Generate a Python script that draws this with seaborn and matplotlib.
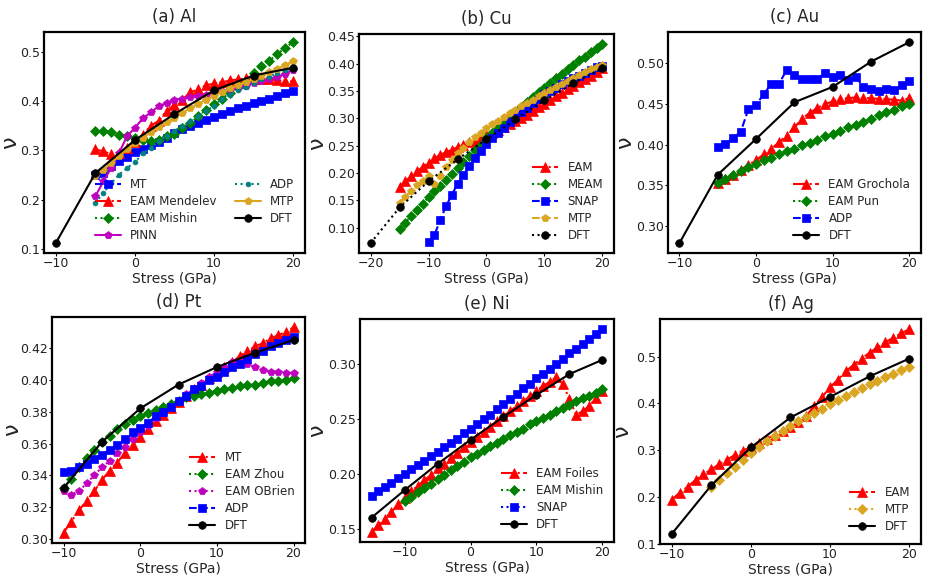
import matplotlib
matplotlib.use("Agg")
import matplotlib.pyplot as plt
from matplotlib.ticker import MultipleLocator, FormatStrFormatter
import seaborn as sns

sns.set_theme(style="white")
plt.rcParams['font.family'] = ['DejaVu Sans']

# ---------------- data ----------------
# (a) Al
al_dft_x = [-10, -5, 0, 5, 10, 15, 20]
al_dft = [0.112, 0.254, 0.321, 0.374, 0.422, 0.452, 0.468]
al_x = list(range(-5, 21))
al_mt = [0.250, 0.255, 0.268, 0.278, 0.287, 0.296, 0.303, 0.310, 0.318, 0.325, 0.335, 0.343, 0.350,
         0.356, 0.362, 0.368, 0.374, 0.380, 0.386, 0.391, 0.396, 0.401, 0.405, 0.410, 0.416, 0.421]
al_mendelev = [0.302, 0.298, 0.292, 0.295, 0.305, 0.318, 0.332, 0.350, 0.360, 0.380, 0.393, 0.403, 0.418,
               0.424, 0.432, 0.436, 0.438, 0.442, 0.444, 0.446, 0.444, 0.445, 0.444, 0.442, 0.441, 0.440]
al_mishin = [0.339, 0.340, 0.337, 0.332, 0.329, 0.325, 0.322, 0.320, 0.322, 0.329, 0.334, 0.346, 0.356,
             0.369, 0.383, 0.394, 0.405, 0.417, 0.429, 0.438, 0.457, 0.471, 0.482, 0.496, 0.508, 0.520]
al_pinn = [0.207, 0.237, 0.264, 0.295, 0.329, 0.346, 0.365, 0.377, 0.390, 0.396, 0.403, 0.405, 0.408,
           0.410, 0.413, 0.417, 0.420, 0.424, 0.427, 0.431, 0.437, 0.440, 0.445, 0.449, 0.456, 0.463]
al_adp = [0.193, 0.214, 0.233, 0.251, 0.264, 0.276, 0.294, 0.305, 0.319, 0.330, 0.340, 0.349, 0.359,
          0.369, 0.380, 0.391, 0.405, 0.413, 0.422, 0.429, 0.437, 0.444, 0.450, 0.457, 0.463, 0.466]
al_mtp = [0.248, 0.261, 0.275, 0.288, 0.302, 0.314, 0.325, 0.337, 0.347, 0.357, 0.366, 0.376, 0.386,
          0.395, 0.403, 0.411, 0.419, 0.426, 0.432, 0.439, 0.445, 0.452, 0.459, 0.465, 0.474, 0.481]

# (b) Cu
cu_dft_x = [-20, -15, -10, -5, 0, 5, 10, 15, 20]
cu_dft = [0.072, 0.137, 0.185, 0.225, 0.262, 0.298, 0.333, 0.364, 0.392]
cu_x = list(range(-15, 21))
cu_eam = [0.174, 0.185, 0.194, 0.203, 0.211, 0.219, 0.227, 0.233, 0.238, 0.243, 0.247, 0.251, 0.256,
          0.259, 0.264, 0.269, 0.273, 0.278, 0.284, 0.290, 0.295, 0.301, 0.307, 0.314, 0.320, 0.326,
          0.333, 0.340, 0.346, 0.353, 0.360, 0.366, 0.372, 0.378, 0.385, 0.392]
cu_meam = [0.098, 0.109, 0.122, 0.133, 0.144, 0.156, 0.167, 0.177, 0.188, 0.199, 0.210, 0.220, 0.231,
           0.242, 0.252, 0.264, 0.274, 0.283, 0.293, 0.302, 0.312, 0.321, 0.330, 0.339, 0.348, 0.356,
           0.365, 0.373, 0.381, 0.390, 0.398, 0.406, 0.413, 0.421, 0.429, 0.436]
cu_mtp = [0.146, 0.157, 0.168, 0.178, 0.186, 0.194, 0.180, 0.194, 0.211, 0.224, 0.236, 0.246, 0.256,
          0.265, 0.274, 0.282, 0.290, 0.296, 0.303, 0.309, 0.315, 0.322, 0.328, 0.334, 0.340, 0.346,
          0.352, 0.357, 0.363, 0.369, 0.374, 0.380, 0.385, 0.390, 0.394, 0.398]
cu_snap_x = list(range(-10, 21))
cu_snap = [0.073, 0.086, 0.114, 0.139, 0.160, 0.180, 0.196, 0.212, 0.228, 0.240, 0.253, 0.264, 0.273,
           0.283, 0.293, 0.302, 0.311, 0.319, 0.328, 0.336, 0.344, 0.350, 0.356, 0.362, 0.368, 0.373,
           0.378, 0.383, 0.388, 0.393, 0.396]

# (c) Au
au_dft_x = [-10, -5, 0, 5, 10, 15, 20]
au_dft = [0.279, 0.363, 0.407, 0.452, 0.471, 0.502, 0.526]
au_x = list(range(-5, 21))
au_grochola = [0.353, 0.358, 0.363, 0.369, 0.375, 0.381, 0.388, 0.395, 0.403, 0.411, 0.421, 0.432, 0.439,
               0.445, 0.450, 0.453, 0.456, 0.457, 0.458, 0.457, 0.457, 0.456, 0.456, 0.455, 0.454, 0.457]
au_pun = [0.353, 0.358, 0.363, 0.367, 0.372, 0.376, 0.381, 0.384, 0.388, 0.392, 0.395, 0.399, 0.402,
          0.406, 0.410, 0.413, 0.417, 0.421, 0.424, 0.428, 0.432, 0.436, 0.440, 0.443, 0.447, 0.450]
au_adp = [0.397, 0.401, 0.408, 0.416, 0.444, 0.449, 0.462, 0.475, 0.475, 0.492, 0.486, 0.480, 0.480,
          0.481, 0.488, 0.483, 0.486, 0.479, 0.483, 0.471, 0.468, 0.466, 0.468, 0.467, 0.473, 0.478]

# (d) Pt
pt_dft_x = [-10, -5, 0, 5, 10, 15, 20]
pt_dft = [0.332, 0.361, 0.382, 0.397, 0.408, 0.417, 0.425]
pt_x = list(range(-10, 21))
pt_mt = [0.304, 0.311, 0.318, 0.324, 0.330, 0.337, 0.343, 0.348, 0.354, 0.359, 0.364, 0.369, 0.374,
         0.378, 0.382, 0.386, 0.390, 0.394, 0.397, 0.401, 0.405, 0.408, 0.411, 0.415, 0.418, 0.421,
         0.423, 0.426, 0.428, 0.430, 0.433]
pt_zhou = [0.332, 0.338, 0.345, 0.351, 0.356, 0.361, 0.365, 0.369, 0.372, 0.375, 0.377, 0.379, 0.381,
           0.383, 0.385, 0.387, 0.389, 0.390, 0.391, 0.392, 0.393, 0.394, 0.395, 0.396, 0.397, 0.397,
           0.398, 0.399, 0.399, 0.400, 0.401]
pt_obrien = [0.330, 0.328, 0.330, 0.335, 0.340, 0.345, 0.349, 0.354, 0.358, 0.363, 0.367, 0.371, 0.376,
             0.379, 0.383, 0.387, 0.391, 0.394, 0.398, 0.402, 0.405, 0.408, 0.411, 0.411, 0.410, 0.408,
             0.406, 0.405, 0.405, 0.404, 0.404]
pt_adp = [0.342, 0.343, 0.345, 0.347, 0.350, 0.353, 0.356, 0.359, 0.363, 0.367, 0.370, 0.373, 0.377,
          0.380, 0.383, 0.387, 0.390, 0.394, 0.396, 0.400, 0.402, 0.405, 0.408, 0.410, 0.413, 0.416,
          0.418, 0.421, 0.423, 0.425, 0.427]

# (e) Ni
ni_dft_x = [-15, -10, -5, 0, 5, 10, 15, 20]
ni_dft = [0.160, 0.185, 0.209, 0.231, 0.252, 0.272, 0.291, 0.304]
ni_x = list(range(-15, 21))
ni_foiles = [0.147, 0.153, 0.159, 0.165, 0.172, 0.178, 0.184, 0.189, 0.194, 0.199, 0.205, 0.209, 0.214,
             0.219, 0.224, 0.229, 0.234, 0.238, 0.243, 0.248, 0.253, 0.257, 0.262, 0.266, 0.271, 0.276,
             0.280, 0.284, 0.288, 0.282, 0.268, 0.254, 0.257, 0.262, 0.269, 0.276]
ni_mishin_x = list(range(-10, 21))
ni_mishin = [0.175, 0.179, 0.183, 0.187, 0.191, 0.195, 0.199, 0.203, 0.207, 0.211, 0.215, 0.218, 0.222,
             0.225, 0.228, 0.232, 0.235, 0.238, 0.241, 0.245, 0.248, 0.251, 0.254, 0.257, 0.260, 0.263,
             0.266, 0.269, 0.271, 0.274, 0.277]
ni_snap = [0.180, 0.184, 0.188, 0.192, 0.196, 0.200, 0.204, 0.208, 0.212, 0.216, 0.220, 0.224, 0.228,
           0.232, 0.237, 0.241, 0.245, 0.250, 0.254, 0.259, 0.264, 0.268, 0.273, 0.278, 0.282, 0.287,
           0.291, 0.296, 0.300, 0.305, 0.310, 0.314, 0.318, 0.323, 0.328, 0.332]

# (f) Ag
ag_dft_x = [-10, -5, 0, 5, 10, 15, 20]
ag_dft = [0.121, 0.225, 0.306, 0.370, 0.414, 0.458, 0.496]
ag_eam_x = list(range(-10, 21))
ag_eam = [0.194, 0.209, 0.222, 0.236, 0.248, 0.259, 0.270, 0.280, 0.290, 0.299, 0.307, 0.315, 0.324,
          0.333, 0.342, 0.350, 0.360, 0.373, 0.395, 0.414, 0.435, 0.451, 0.469, 0.483, 0.496, 0.509,
          0.520, 0.531, 0.541, 0.550, 0.559]
ag_mtp_x = list(range(-5, 21))
ag_mtp = [0.222, 0.237, 0.251, 0.264, 0.279, 0.293, 0.307, 0.319, 0.330, 0.341, 0.351, 0.362, 0.372,
          0.380, 0.389, 0.399, 0.407, 0.415, 0.424, 0.433, 0.441, 0.449, 0.457, 0.464, 0.471, 0.478]

# ---------------- figure ----------------
MAGENTA = "#BF00BF"
fig, axes = plt.subplots(2, 3, figsize=(9.29, 5.8), dpi=100)
W, H = 929.0, 580.0
boxes = [(44, 253, 261, 221), (359, 253, 255, 219), (668, 253, 253, 221),
         (52, 543, 253, 226), (360, 542, 254, 223), (660, 544, 261, 225)]
ylabel_px = [20, 327, 635, 22, 327, 632]
for ax, (l, b, w, h) in zip(axes.flat, boxes):
    ax.set_position([l / W, 1 - b / H, w / W, h / H])


def draw(ax, x, y, label, color, marker, ls, ms):
    sns.lineplot(x=x, y=y, ax=ax, label=label, color=color, marker=marker, linestyle=ls,
                 linewidth=1.5, markersize=ms, markeredgecolor=color, markeredgewidth=0.5)


panels = [
    ("(a) Al", [
        (al_x, al_mt, "MT", "blue", "s", "--", 5.5),
        (al_x, al_mendelev, "EAM Mendelev", "red", "^", "-.", 6.5),
        (al_x, al_mishin, "EAM Mishin", "green", "D", ":", 5.5),
        (al_x, al_pinn, "PINN", MAGENTA, "p", "-", 6),
        (al_x, al_adp, "ADP", "teal", "o", ":", 3.5),
        (al_x, al_mtp, "MTP", "goldenrod", "p", "-", 6),
        (al_dft_x, al_dft, "DFT", "black", "o", "-", 5.5),
    ], 0.1, 2, "%.1f"),
    ("(b) Cu", [
        (cu_x, cu_eam, "EAM", "red", "^", "-.", 6.5),
        (cu_x, cu_meam, "MEAM", "green", "D", ":", 5.5),
        (cu_snap_x, cu_snap, "SNAP", "blue", "s", "--", 5.5),
        (cu_x, cu_mtp, "MTP", "goldenrod", "p", "--", 6),
        (cu_dft_x, cu_dft, "DFT", "black", "o", ":", 5.5),
    ], 0.05, 1, "%.2f"),
    ("(c) Au", [
        (au_x, au_grochola, "EAM Grochola", "red", "^", "-.", 6.5),
        (au_x, au_pun, "EAM Pun", "green", "D", ":", 5.5),
        (au_x, au_adp, "ADP", "blue", "s", "--", 5.5),
        (au_dft_x, au_dft, "DFT", "black", "o", "-", 5.5),
    ], 0.05, 1, "%.2f"),
    ("(d) Pt", [
        (pt_x, pt_mt, "MT", "red", "^", "-.", 6.5),
        (pt_x, pt_zhou, "EAM Zhou", "green", "D", ":", 5.5),
        (pt_x, pt_obrien, "EAM OBrien", MAGENTA, "p", ":", 6),
        (pt_x, pt_adp, "ADP", "blue", "s", "--", 5.5),
        (pt_dft_x, pt_dft, "DFT", "black", "o", "-", 5.5),
    ], 0.02, 1, "%.2f"),
    ("(e) Ni", [
        (ni_x, ni_foiles, "EAM Foiles", "red", "^", "-.", 6.5),
        (ni_mishin_x, ni_mishin, "EAM Mishin", "green", "D", ":", 5.5),
        (ni_x, ni_snap, "SNAP", "blue", "s", ":", 5.5),
        (ni_dft_x, ni_dft, "DFT", "black", "o", "-", 5.5),
    ], 0.05, 1, "%.2f"),
    ("(f) Ag", [
        (ag_eam_x, ag_eam, "EAM", "red", "^", "-.", 6.5),
        (ag_mtp_x, ag_mtp, "MTP", "goldenrod", "D", ":", 5.5),
        (ag_dft_x, ag_dft, "DFT", "black", "o", "-", 5.5),
    ], 0.1, 1, "%.1f"),
]

for ax, (title, series, ystep, ncol, fmt), lx, (l, b, w, h) in zip(axes.flat, panels, ylabel_px, boxes):
    for (x, y, label, color, marker, ls, ms) in series:
        draw(ax, x, y, label, color, marker, ls, ms)
    ax.set_title(title, fontsize=12, pad=7)
    ax.set_xlabel("Stress (GPa)", fontsize=10, labelpad=1)
    ax.set_ylabel("ν", fontsize=16)
    ax.yaxis.set_label_coords((lx - l) / w, 0.5)
    ax.xaxis.set_major_locator(MultipleLocator(10))
    ax.yaxis.set_major_locator(MultipleLocator(ystep))
    ax.yaxis.set_major_formatter(FormatStrFormatter(fmt))
    ax.tick_params(labelsize=9, pad=1, length=2, width=0.8, left=True, bottom=True, colors="black")
    ax.tick_params(labelcolor="#222222")
    for sp in ax.spines.values():
        sp.set_color("black")
        sp.set_linewidth(1.6)
    ax.legend(loc="lower right", ncol=ncol, frameon=False, fontsize=8.5,
              handlelength=2.2, labelspacing=0.35, columnspacing=1.5)

fig.savefig("out.png", dpi=100)
